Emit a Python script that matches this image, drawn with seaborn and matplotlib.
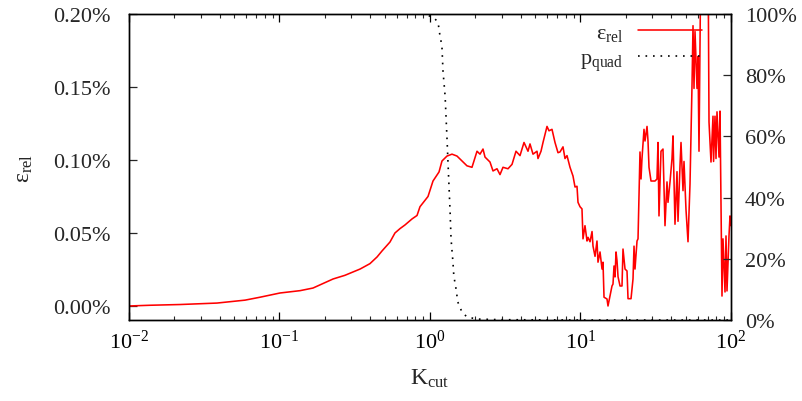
import numpy as np
import pandas as pd
import matplotlib
matplotlib.use("Agg")
import matplotlib.pyplot as plt
import seaborn as sns
from matplotlib.ticker import FixedLocator, FuncFormatter, LogLocator, NullFormatter
from matplotlib.lines import Line2D

# ---- data ----
k_eps = [0.0100, 0.0138, 0.0218, 0.0384, 0.0590, 0.0742, 0.1008, 0.137, 0.167, 0.227,
         0.272, 0.343, 0.399, 0.445, 0.480, 0.542, 0.585, 0.632, 0.682, 0.759,
         0.820, 0.858, 0.970, 1.047, 1.148, 1.201, 1.297, 1.400, 1.511, 1.632,
         1.761, 1.901, 2.053, 2.149, 2.250, 2.320, 2.504, 2.622, 2.787, 2.918,
         3.055, 3.298, 3.507, 3.728, 3.963, 4.213, 4.479, 4.618, 4.835, 5.140,
         5.219, 5.465, 5.635, 5.990, 6.176, 6.466, 6.770, 7.087, 7.308, 7.651,
         7.889, 8.135, 8.517, 8.917, 9.194, 9.478, 9.625, 9.924, 10.23, 10.39,
         10.71, 11.05, 11.22, 11.57, 11.93, 12.11, 12.49, 12.87, 13.07, 13.48,
         13.90, 14.11, 14.33, 15.00, 15.23, 15.70, 16.19, 16.44, 16.70, 16.96,
         17.22, 17.48, 17.76, 18.31, 18.87, 19.16, 19.76, 20.37, 20.69, 21.66,
         22.33, 22.68, 23.02, 23.74, 24.11, 24.85, 25.24, 25.62, 26.42, 26.83,
         27.67, 28.09, 28.52, 29.41, 31.26, 32.23, 32.73, 33.23, 34.26, 35.33,
         36.43, 37.56, 38.14, 39.33, 40.55, 41.17, 42.45, 43.78, 44.45, 45.83,
         46.54, 47.98, 48.72, 50.23, 51.80, 53.41, 55.07, 55.92, 56.78, 57.66,
         59.44, 60.36, 61.29, 63.18, 70.34, 71.43, 73.64, 75.93, 76.60, 78.29,
         79.50, 80.72, 83.23, 84.52, 87.13, 88.48, 91.24, 92.64, 94.06, 96.99,
         98.49, 100.0]
eps_rel_pct = [0.000, 0.0005, 0.001, 0.002, 0.004, 0.006, 0.0089, 0.0105, 0.0123, 0.0185,
               0.021, 0.0253, 0.029, 0.0336, 0.0377, 0.0438, 0.0500, 0.053, 0.0555, 0.0596,
               0.062, 0.068, 0.075, 0.0856, 0.0918, 0.0993, 0.1027, 0.104, 0.1027, 0.0993,
               0.096, 0.095, 0.106, 0.104, 0.1075, 0.102, 0.0986, 0.0925, 0.094, 0.090,
               0.095, 0.094, 0.097, 0.106, 0.103, 0.112, 0.106, 0.111, 0.104, 0.106,
               0.101, 0.106, 0.112, 0.123, 0.120, 0.121, 0.112, 0.105, 0.1055, 0.109,
               0.101, 0.103, 0.095, 0.089, 0.0815, 0.082, 0.071, 0.068, 0.0665, 0.046,
               0.055, 0.0445, 0.047, 0.044, 0.051, 0.041, 0.034, 0.0445, 0.030, 0.037,
               0.0253, 0.030, 0.006, 0.0048, 0.000, 0.0068, 0.0137, 0.015, 0.0274, 0.0199,
               0.037, 0.031, 0.020, 0.0137, 0.0137, 0.039, 0.0253, 0.024, 0.005, 0.005,
               0.0185, 0.041, 0.0253, 0.0445, 0.046, 0.1055, 0.087, 0.101, 0.121, 0.113,
               0.123, 0.113, 0.095, 0.0856, 0.0856, 0.087, 0.112, 0.0617, 0.106, 0.1075,
               0.055, 0.085, 0.071, 0.085, 0.101, 0.1165, 0.056, 0.092, 0.058, 0.096,
               0.112, 0.079, 0.099, 0.066, 0.044, 0.0836, 0.151, 0.192, 0.149, 0.188,
               0.149, 0.171, 0.106, 0.250, 0.250, 0.126, 0.0986, 0.130, 0.099, 0.130,
               0.101, 0.133, 0.102, 0.1335, 0.0068, 0.046, 0.0096, 0.048, 0.0103, 0.048,
               0.0617, 0.055]

k_quad = [0.01, 0.1, 0.5, 0.9, 1.00, 1.047, 1.13, 1.16, 1.20, 1.22, 1.26, 1.28, 1.30,
          1.32, 1.34, 1.36, 1.38, 1.42, 1.44, 1.49, 1.53, 1.63, 1.76, 2.05, 3.0, 10.0, 100.0]
p_quad = [1.0, 1.0, 1.0, 1.0, 0.993, 0.99, 0.974, 0.935, 0.895, 0.814, 0.732, 0.657, 0.582,
          0.503, 0.428, 0.353, 0.265, 0.19, 0.144, 0.101, 0.059, 0.026, 0.01, 0.003, 0.001, 0.0, 0.0]

left_ticks = [0.00, 0.05, 0.10, 0.15, 0.20]
right_ticks = [0.0, 0.2, 0.4, 0.6, 0.8, 1.0]
x_major = [1e-2, 1e-1, 1e0, 1e1, 1e2]

# ---- style ----
sns.set_theme(style="ticks")
plt.rcParams["font.family"] = ["Liberation Serif", "DejaVu Serif"]
plt.rcParams["mathtext.fontset"] = "custom"
plt.rcParams["mathtext.rm"] = "Liberation Serif"
plt.rcParams["mathtext.it"] = "Liberation Serif:italic"
plt.rcParams["mathtext.default"] = "regular"
FS = 16

fig = plt.figure(figsize=(8.03, 4.02), dpi=100)
ax = fig.add_axes([129 / 803, 1 - 321 / 402, 602 / 803, 306 / 402])
ax2 = ax.twinx()

df_eps = pd.DataFrame({"K": k_eps, "eps": eps_rel_pct})
df_q = pd.DataFrame({"K": k_quad, "p": p_quad})
sns.lineplot(data=df_eps, x="K", y="eps", ax=ax, color="red", lw=1.15,
             estimator=None, sort=False, legend=False)
sns.lineplot(data=df_q, x="K", y="p", ax=ax2, color="black", lw=1.2,
             linestyle=(0, (1, 3.5)), estimator=None, sort=False, legend=False)

ax.set_xscale("log")
ax.set_xlim(1e-2, 1e2)
ax.set_ylim(-0.0096, 0.20)
ax2.set_ylim(0, 1)

ax.yaxis.set_major_locator(FixedLocator(left_ticks))
ax.yaxis.set_major_formatter(FuncFormatter(lambda v, p: f"{v:.2f}%"))
ax2.yaxis.set_major_locator(FixedLocator(right_ticks))
ax2.yaxis.set_major_formatter(FuncFormatter(lambda v, p: f"{v*100:.0f}%"))
ax.xaxis.set_major_locator(FixedLocator(x_major))
ax.xaxis.set_major_formatter(FuncFormatter(lambda v, p: r"$\mathregular{10^{%d}}$" % round(np.log10(v))))
ax.xaxis.set_minor_locator(LogLocator(base=10, subs=np.arange(2, 10)))
ax.xaxis.set_minor_formatter(NullFormatter())

ax.tick_params(axis="x", which="major", direction="in", length=6, width=0.9,
               top=True, labelsize=FS, pad=7, colors="black")
ax.tick_params(axis="x", which="minor", direction="in", length=3, width=0.8, top=True)
ax.tick_params(axis="y", which="major", direction="in", length=6, width=0.9,
               right=False, labelsize=FS, pad=13)
ax.tick_params(axis="y", which="minor", left=False, right=False)
ax2.tick_params(axis="y", which="major", direction="in", length=6, width=0.9,
                labelsize=FS, pad=10)
ax2.tick_params(axis="y", which="minor", left=False, right=False)
for a in (ax, ax2):
    for s in a.spines.values():
        s.set_visible(True)
        s.set_linewidth(1.0)
        s.set_color("black")

ax.set_xlabel(r"$\mathrm{K_{cut}}$", fontsize=FS + 1, labelpad=10)
ax.set_ylabel(r"$\mathrm{ε_{rel}}$", fontsize=FS + 1, labelpad=13)
ax2.set_ylabel("")

handles = [Line2D([], [], color="red", lw=1.15),
           Line2D([], [], color="black", lw=1.2, linestyle=(0, (1, 3.5)))]
labels = [r"$\mathrm{ε_{rel}}$", r"$\mathrm{p_{quad}}$"]
leg = ax.legend(handles, labels, loc="upper right", bbox_to_anchor=(0.952, 0.972),
                frameon=False, markerfirst=False, handlelength=2.9, handletextpad=0.65,
                labelspacing=0.25, borderpad=0, borderaxespad=0, fontsize=FS)
for t in leg.get_texts():
    t.set_ha("right")

fig.savefig("out.png", dpi=100)
